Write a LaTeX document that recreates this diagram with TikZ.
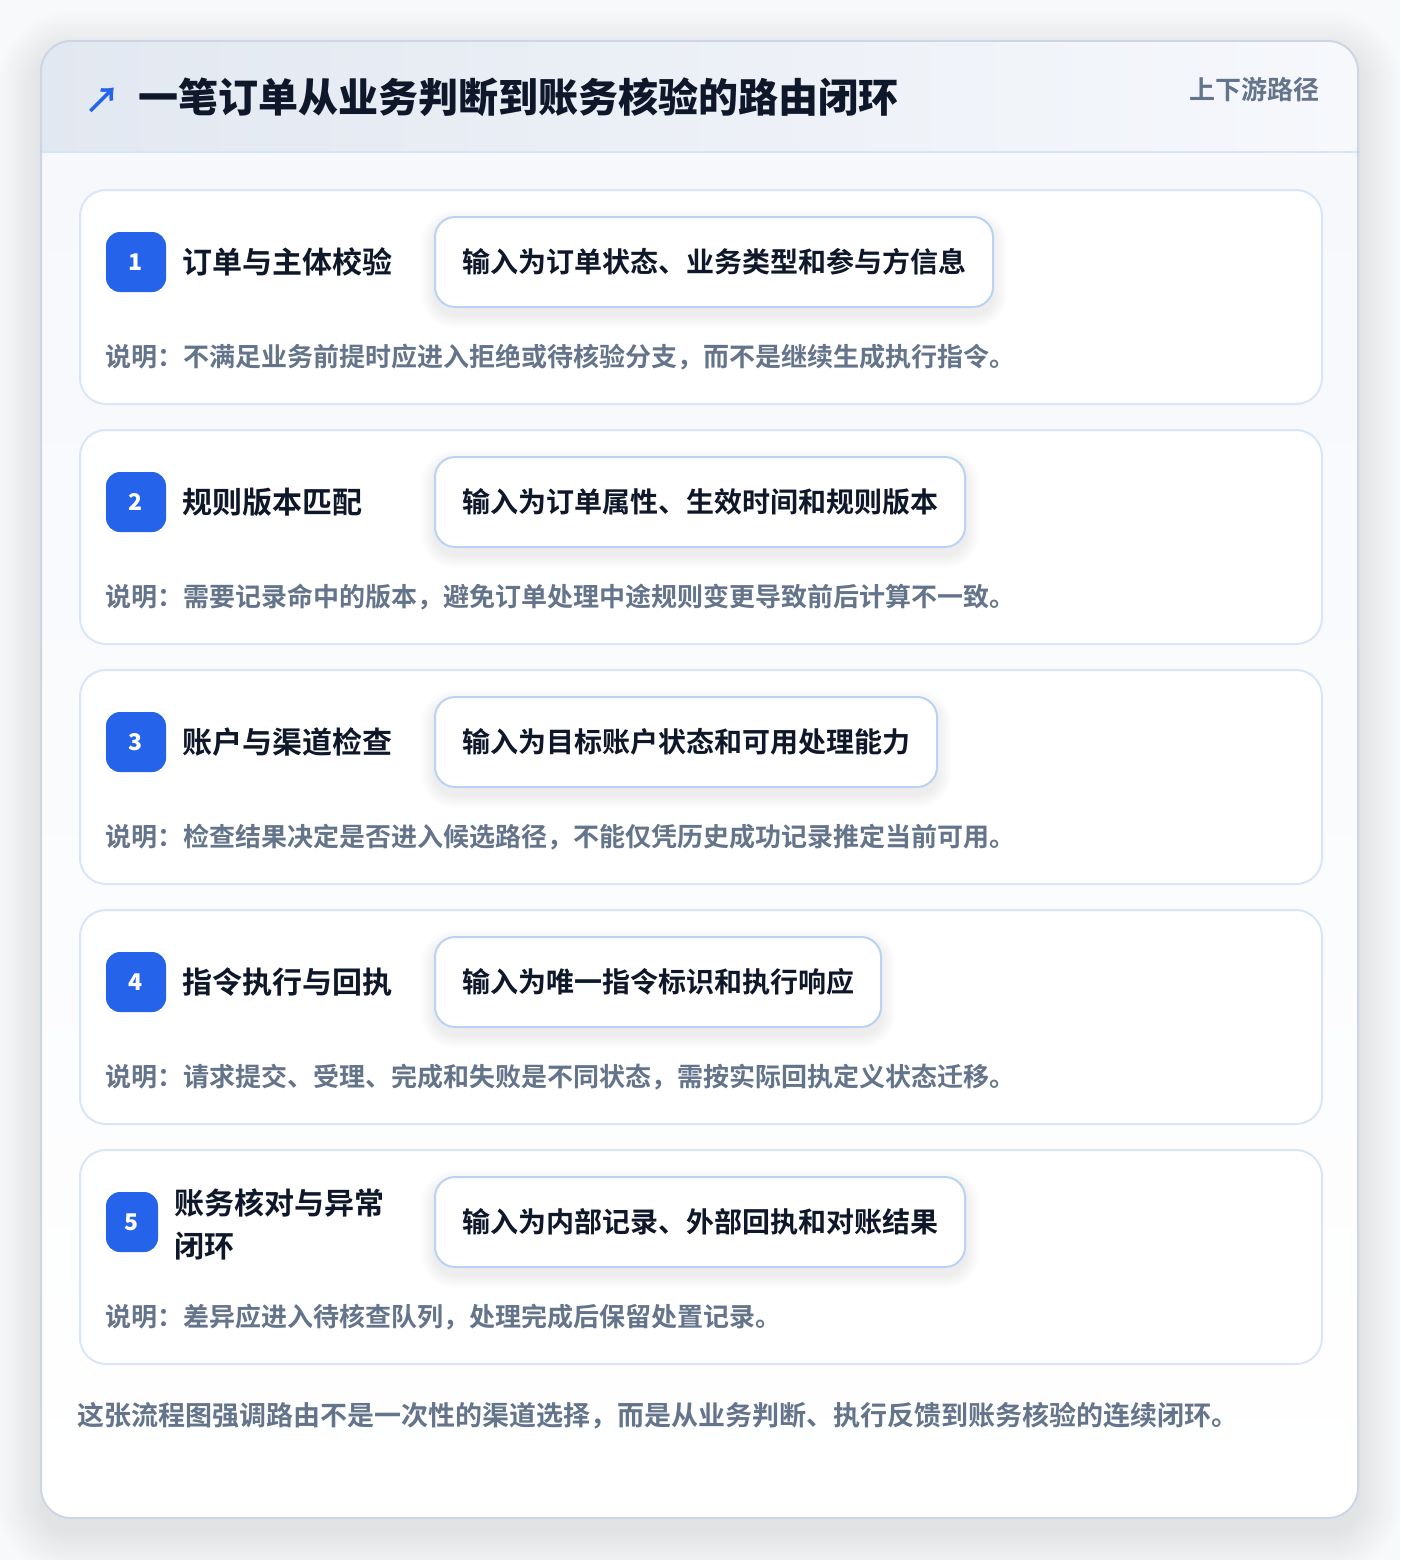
\documentclass[tikz,border=0pt]{standalone}
\usepackage{fontspec}
\setmainfont{Noto Sans CJK SC}[UprightFont=* Bold]
\newfontfamily\heavyfont{Noto Sans CJK SC Black}
\definecolor{pagebg}{HTML}{F8F9FA}
\definecolor{badgeblue}{HTML}{2563EB}
\definecolor{inktitle}{HTML}{0F172A}
\definecolor{inkgray}{HTML}{64748B}
\definecolor{cardline}{HTML}{D9E6F7}
\definecolor{boxline}{HTML}{BBD3F2}
\definecolor{outerline}{HTML}{CDD6E4}
\definecolor{hdrL}{HTML}{E2E8F1}
\definecolor{hdrR}{HTML}{F6F8FC}
\definecolor{bodyT}{HTML}{F6F8FC}
\definecolor{divline}{HTML}{DAE5F4}
\definecolor{shadowc}{HTML}{1E293B}
\pgfdeclarelayer{top}
\pgfsetlayers{main,top}
\begin{document}
\begin{tikzpicture}[x=1pt,y=-1pt,
  cjk/.style={inner sep=0pt, outer sep=0pt},
  cardbox/.style={draw=cardline, line width=2pt, fill=white, rounded corners=26pt,
    minimum width=1242pt, minimum height=214pt, anchor=north west, inner sep=0pt},
  inbox/.style={draw=boxline, line width=2pt, fill=white, rounded corners=20pt,
    inner ysep=0pt, inner xsep=27pt, outer sep=0pt, minimum height=90pt, anchor=west, text=inktitle,
    text height=24.64pt, text depth=3.36pt,
    font=\fontsize{28}{34}\selectfont},
  badgebox/.style={fill=badgeblue, rounded corners=14pt, minimum width=60pt, minimum height=60pt,
    inner sep=0pt, text=white, font=\heavyfont\fontsize{23}{26}\selectfont},
  ttltext/.style={cjk, anchor=west, text=inktitle, font=\fontsize{30}{36}\selectfont,
    text height=26.4pt, text depth=3.6pt},
  desctext/.style={cjk, anchor=west, text=inkgray, font=\fontsize{26}{32}\selectfont,
    text height=22.88pt, text depth=3.12pt},
  foottext/.style={cjk, anchor=west, text=inkgray, font=\fontsize{27}{32}\selectfont,
    text height=23.76pt, text depth=3.24pt}
]
\useasboundingbox (0,0) rectangle (1400,1560);
\fill[pagebg] (0,0) rectangle (1400,1560);
% outer card shadow
\foreach \i in {1,...,22}{
  \fill[shadowc, opacity=0.0055, rounded corners={30+2*\i}]
    ({41-2*\i},{41-2*\i+14}) rectangle ({1358+2*\i},{1518+2*\i+14});
}
\path[fill=white, rounded corners=30pt] (41,41) rectangle (1358,1518);
\begin{scope}
  \clip[rounded corners=30pt] (41,41) rectangle (1358,1518);
  \shade[left color=hdrL, right color=hdrR] (41,41) rectangle (1358,152);
  \shade[top color=bodyT, bottom color=white] (41,152) rectangle (1358,1518);
\end{scope}
\draw[divline, line width=1.5pt] (41,152) -- (1358,152);
\draw[outerline, line width=2pt, rounded corners=30pt] (41,41) rectangle (1358,1518);

% header
\node[cjk, text=badgeblue, font=\fontsize{36}{36}\selectfont, text height=31.68pt, text depth=4.32pt] (icon) at (102,100) {↗};
\node[cjk, anchor=west, text=inktitle, font=\heavyfont\fontsize{40}{48}\selectfont, text height=35.2pt, text depth=4.8pt] (title) at (138.5,97.5)
  {一笔订单从业务判断到账务核验的路由闭环};
\node[cjk, anchor=east, text=inkgray, font=\fontsize{26}{30}\selectfont, text height=22.88pt, text depth=3.12pt] (scope) at (1319,89.5)
  {上下游路径};

% cards
\node[cardbox] (c1) at (79,189) {};
\node[cardbox] (c2) at (79,429) {};
\node[cardbox] (c3) at (79,669) {};
\node[cardbox] (c4) at (79,909) {};
\node[cardbox] (c5) at (79,1149) {};

% badges and titles
\node[badgebox] (b1) at (136,262) {1};
\node[ttltext] (t1) at (182,262) {订单与主体校验};
\node[badgebox] (b2) at (136,502) {2};
\node[ttltext] (t2) at (182,502) {规则版本匹配};
\node[badgebox] (b3) at (136,742) {3};
\node[ttltext] (t3) at (182,742) {账户与渠道检查};
\node[badgebox] (b4) at (136,982) {4};
\node[ttltext] (t4) at (182,982) {指令执行与回执};
\node[badgebox, minimum width=52pt] (b5) at (132,1222) {5};
\node[ttltext] (t5a) at (174,1203) {账务核对与异常};
\node[ttltext] (t5b) at (174,1246) {闭环};

% input boxes (top layer)
\begin{pgfonlayer}{top}
\node[inbox] (i1) at (435,262) {输入为订单状态、业务类型和参与方信息};
\node[inbox] (i2) at (435,502) {输入为订单属性、生效时间和规则版本};
\node[inbox] (i3) at (435,742) {输入为目标账户状态和可用处理能力};
\node[inbox] (i4) at (435,982) {输入为唯一指令标识和执行响应};
\node[inbox] (i5) at (435,1222) {输入为内部记录、外部回执和对账结果};
\end{pgfonlayer}

% input box shadows (between cards and boxes)
\foreach \n in {i1,i2,i3,i4,i5}{
  \foreach \i in {1,...,9}{
    \fill[shadowc, opacity=0.008, rounded corners={20+1.6*\i}]
      ([shift={({-1.6*\i},{-1.6*\i+7})}]\n.north west) rectangle ([shift={({1.6*\i},{1.6*\i+7})}]\n.south east);
  }
}

% descriptions
\node[desctext] (d1) at (105,357) {说明：不满足业务前提时应进入拒绝或待核验分支，而不是继续生成执行指令。};
\node[desctext] (d2) at (105,597) {说明：需要记录命中的版本，避免订单处理中途规则变更导致前后计算不一致。};
\node[desctext] (d3) at (105,837) {说明：检查结果决定是否进入候选路径，不能仅凭历史成功记录推定当前可用。};
\node[desctext] (d4) at (105,1077) {说明：请求提交、受理、完成和失败是不同状态，需按实际回执定义状态迁移。};
\node[desctext] (d5) at (105,1317) {说明：差异应进入待核查队列，处理完成后保留处置记录。};

% footer
\node[foottext] (foot) at (77,1415) {这张流程图强调路由不是一次性的渠道选择，而是从业务判断、执行反馈到账务核验的连续闭环。};
\end{tikzpicture}
\end{document}
